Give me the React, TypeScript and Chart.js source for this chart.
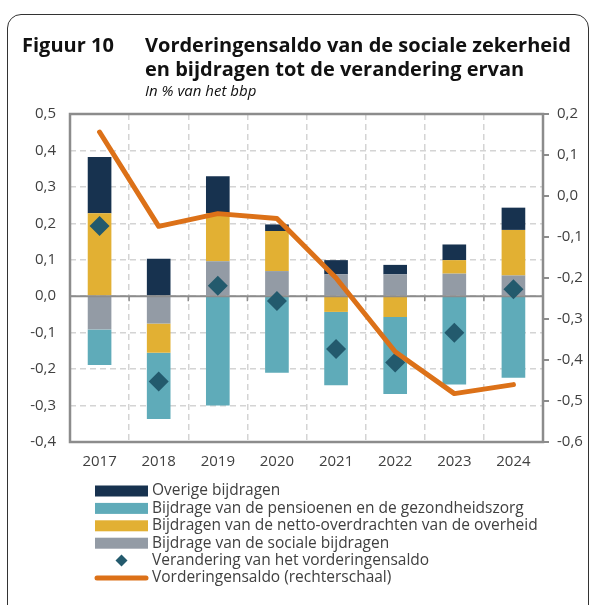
import React, { useEffect, useRef } from "react";
import { Chart, registerables } from "chart.js";

Chart.register(...registerables);

// ---- Data ----
const years = ["2017", "2018", "2019", "2020", "2021", "2022", "2023", "2024"];
const socialeBijdragen = [-0.091, -0.075, 0.096, 0.069, 0.06, 0.06, 0.062, 0.057];
const nettoOverdrachten = [0.228, -0.08, 0.131, 0.11, -0.043, -0.057, 0.037, 0.125];
const pensioenenZorg = [-0.098, -0.182, -0.3, -0.21, -0.201, -0.211, -0.242, -0.224];
const overigeBijdragen = [0.154, 0.103, 0.102, 0.018, 0.039, 0.026, 0.043, 0.061];
const veranderingSaldo = [0.193, -0.234, 0.029, -0.013, -0.145, -0.182, -0.1, 0.019];
const vorderingensaldo = [0.156, -0.074, -0.043, -0.055, -0.2, -0.38, -0.482, -0.46];

const leftAxisRange = [-0.4, 0.5];
const rightAxisRange = [-0.6, 0.2];
const tickStep = 0.1;

const labelsLegend = [
  "Overige bijdragen",
  "Bijdrage van de pensioenen en de gezondheidszorg",
  "Bijdragen van de netto-overdrachten van de overheid",
  "Bijdrage van de sociale bijdragen",
  "Verandering van het vorderingensaldo",
  "Vorderingensaldo (rechterschaal)",
];

// ---- Styles ----
const NAVY = "#17324f";
const TEAL = "#5fabb9";
const YELLOW = "#e2b033";
const GREY = "#939ba5";
const DIAMOND = "#235a6d";
const ORANGE = "#dc7118";
const TEXT = "#404040";
const AXIS = "#8c8c8c";
const GRID = "#d4d4d4";
const FONT = "'Open Sans', sans-serif";

const fmt = (v: number) => {
  const r = Math.round(v * 10) / 10;
  return (r === 0 ? 0 : r).toFixed(1).replace(".", ",");
};

const framePlugin = {
  id: "frameAndZero",
  afterDatasetDraw(chart: any, args: any) {
    if (args.index !== 0) return;
    const { ctx, chartArea } = chart;
    const y0 = chart.scales.y.getPixelForValue(0);
    const x = chart.scales.x;
    ctx.save();
    ctx.strokeStyle = AXIS;
    ctx.lineWidth = 2;
    ctx.setLineDash([]);
    ctx.beginPath();
    ctx.moveTo(chartArea.left, y0);
    ctx.lineTo(chartArea.right, y0);
    ctx.stroke();
    ctx.lineWidth = 1.5;
    for (let i = 1; i < years.length; i++) {
      const xb = (x.getPixelForValue(i - 1) + x.getPixelForValue(i)) / 2;
      ctx.beginPath();
      ctx.moveTo(xb, y0);
      ctx.lineTo(xb, y0 + 5);
      ctx.stroke();
    }
    ctx.restore();
  },
  afterDraw(chart: any) {
    const { ctx, chartArea } = chart;
    ctx.save();
    ctx.strokeStyle = AXIS;
    ctx.lineWidth = 2.5;
    ctx.setLineDash([]);
    ctx.strokeRect(chartArea.left, chartArea.top, chartArea.right - chartArea.left, chartArea.bottom - chartArea.top);

    // legend
    const ds = chart.data.datasets;
    const order = [3, 2, 1, 0, 4, 5];
    const boxL = 95;
    const boxW = 53;
    const textX = 152;
    const startY = 491;
    const step = 17.4;
    ctx.font = `15.5px ${FONT}`;
    ctx.textBaseline = "middle";
    ctx.textAlign = "left";
    order.forEach((di, row) => {
      const cy = startY + row * step;
      const d = ds[di];
      if (di <= 3) {
        ctx.fillStyle = d.backgroundColor;
        ctx.fillRect(boxL, cy - 5.5, boxW, 11);
      } else if (di === 4) {
        ctx.fillStyle = DIAMOND;
        ctx.beginPath();
        ctx.moveTo(boxL + boxW / 2, cy - 6);
        ctx.lineTo(boxL + boxW / 2 + 6, cy);
        ctx.lineTo(boxL + boxW / 2, cy + 6);
        ctx.lineTo(boxL + boxW / 2 - 6, cy);
        ctx.closePath();
        ctx.fill();
      } else {
        ctx.strokeStyle = ORANGE;
        ctx.lineWidth = 5;
        ctx.lineCap = "round";
        ctx.beginPath();
        ctx.moveTo(boxL + 2, cy);
        ctx.lineTo(boxL + boxW - 2, cy);
        ctx.stroke();
      }
      ctx.fillStyle = TEXT;
      ctx.fillText(d.label, textX, cy);
    });
    ctx.restore();
  },
};

export default function App() {
  const canvasRef = useRef<HTMLCanvasElement | null>(null);

  useEffect(() => {
    if (!canvasRef.current) return;
    const barCommon = { type: "bar" as const, stack: "bars", yAxisID: "y", order: 2, barPercentage: 0.4, categoryPercentage: 1, borderWidth: 0 };
    const chart = new Chart(canvasRef.current, {
      type: "bar",
      data: {
        labels: years,
        datasets: [
          { ...barCommon, label: labelsLegend[3], data: socialeBijdragen, backgroundColor: GREY },
          { ...barCommon, label: labelsLegend[2], data: nettoOverdrachten, backgroundColor: YELLOW },
          { ...barCommon, label: labelsLegend[1], data: pensioenenZorg, backgroundColor: TEAL },
          { ...barCommon, label: labelsLegend[0], data: overigeBijdragen, backgroundColor: NAVY },
          {
            type: "line" as any,
            label: labelsLegend[4],
            data: veranderingSaldo,
            yAxisID: "y",
            stack: "diamonds",
            order: 1,
            showLine: false,
            pointStyle: "rectRot",
            pointRadius: 10,
            pointBackgroundColor: DIAMOND,
            pointBorderWidth: 0,
            backgroundColor: DIAMOND,
            borderColor: DIAMOND,
          },
          {
            type: "line" as any,
            label: labelsLegend[5],
            data: vorderingensaldo,
            yAxisID: "y1",
            order: 0,
            borderColor: ORANGE,
            backgroundColor: ORANGE,
            borderWidth: 5,
            pointRadius: 0,
            tension: 0,
            borderCapStyle: "round",
            borderJoinStyle: "round",
          },
        ] as any,
      },
      options: {
        responsive: false,
        animation: false,
        maintainAspectRatio: false,
        layout: { padding: { top: 114, left: 0, right: 0, bottom: 123 } },
        plugins: { legend: { display: false }, tooltip: { enabled: false }, title: { display: false } },
        scales: {
          x: {
            stacked: true,
            offset: true,
            grid: { display: true, offset: true, drawTicks: false, color: GRID, lineWidth: 1.5 },
            border: { display: false, dash: [6, 4] },
            ticks: { color: TEXT, font: { family: FONT, size: 15 }, padding: 11 },
            afterFit: (s: any) => { s.height = 40; },
          },
          y: {
            stacked: true,
            position: "left",
            min: leftAxisRange[0],
            max: leftAxisRange[1],
            grid: { color: GRID, lineWidth: 1.5, drawTicks: false },
            border: { display: false, dash: [6, 4] },
            ticks: { stepSize: tickStep, color: TEXT, font: { family: FONT, size: 15 }, padding: 14, callback: (v: any) => fmt(Number(v)) },
            afterFit: (s: any) => { s.width = 70; },
          },
          y1: {
            position: "right",
            min: rightAxisRange[0],
            max: rightAxisRange[1],
            grid: { drawOnChartArea: false, drawTicks: true, tickLength: 6, color: AXIS, lineWidth: 2 },
            border: { display: false },
            ticks: { stepSize: tickStep, color: TEXT, font: { family: FONT, size: 15 }, padding: 8, callback: (v: any) => fmt(Number(v)) },
            afterFit: (s: any) => { s.width = 52; },
          },
        },
      } as any,
      plugins: [framePlugin],
    });
    return () => chart.destroy();
  }, []);

  return (
    <div style={{ position: "fixed", left: 0, top: 0, width: 595, height: 605, background: "#fff", overflow: "hidden" }}>
      <div
        style={{
          position: "absolute",
          left: 7,
          top: 14,
          width: 582,
          height: 620,
          border: "1.5px solid #333",
          borderRadius: 14,
          boxSizing: "border-box",
        }}
      />
      <canvas ref={canvasRef} width={595} height={605} style={{ position: "absolute", left: 0, top: 0, width: 595, height: 605 }} />
      <div style={{ position: "absolute", left: 22, top: 33, fontFamily: FONT, fontWeight: 700, fontSize: 20, lineHeight: "24px", color: "#111", whiteSpace: "nowrap" }}>
        Figuur 10
      </div>
      <div style={{ position: "absolute", left: 145, top: 33, fontFamily: FONT, fontWeight: 700, fontSize: 20, lineHeight: "24px", color: "#111", whiteSpace: "nowrap" }}>
        <div>Vorderingensaldo van de sociale zekerheid</div>
        <div>en bijdragen tot de verandering ervan</div>
      </div>
      <div style={{ position: "absolute", left: 145, top: 81, fontFamily: FONT, fontStyle: "italic", fontSize: 15, lineHeight: "19px", color: "#111", whiteSpace: "nowrap" }}>
        In % van het bbp
      </div>
    </div>
  );
}
